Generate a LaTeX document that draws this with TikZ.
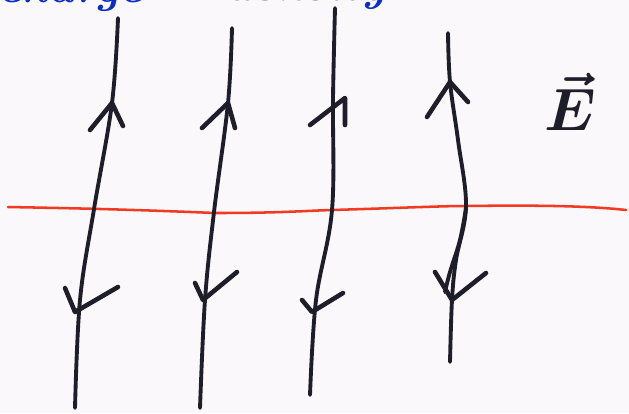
\documentclass[tikz,border=0pt]{standalone}
\usepackage{fontspec}
\begin{document}
\begin{tikzpicture}[x=0.05cm,y=-0.05cm,
  fieldline/.style={line width=5.5pt,color=ink,line cap=round,line join=round},
  arrowhead/.style={line width=6.5pt,color=ink,line cap=round,line join=round},
  boundary/.style={line width=3.6pt,color=redline,line cap=round},
  handtext/.style={color=bluepen,font=\fontsize{64}{70}\selectfont\itshape\bfseries,inner sep=0pt,anchor=base west}]
\definecolor{ink}{HTML}{1E1D2A}
\definecolor{redline}{HTML}{F23A22}
\definecolor{bluepen}{HTML}{0A2FC8}
\definecolor{paper}{HTML}{FBF8FB}
\useasboundingbox (0,0) rectangle (629,413);
\fill[paper] (0,0) rectangle (629,413);
% cut-off blue text at the top
\node[handtext] (t1) at (-2,2) {charge};
\node[handtext] (t2) at (225,0) {density};
% red boundary
\coordinate (r0) at (8,207);
\coordinate (r5) at (626,210);
\draw[boundary] (r0) .. controls (60,208) and (120,209) .. (215,213)
  .. controls (280,213) and (300,211) .. (332,210)
  .. controls (400,208) and (440,206) .. (466,206)
  .. controls (540,205) and (590,206) .. (r5);
% field lines
\draw[fieldline] plot[smooth,tension=0.6] coordinates {(118,18) (112,103) (94,209) (80,300) (75,408)};
\draw[fieldline] plot[smooth,tension=0.6] coordinates {(232,28) (228,103) (214,212) (205,300) (200,408)};
\draw[fieldline] plot[smooth,tension=0.6] coordinates {(335,8) (333,98) (332,210) (316,300) (310,395)};
\draw[fieldline] plot[smooth,tension=0.6] coordinates {(448,33) (450,82) (458,140) (466,206) (456,260) (452,300) (450,362)};
\draw[fieldline] plot[smooth,tension=0.6] coordinates {(466,208) (460,240) (450,272) (445,292)};
% upward arrowheads (above boundary)
\draw[arrowhead] (90,130) -- (112,103) -- (123,126);
\draw[arrowhead] (202,128) -- (228,103) -- (235,128);
\draw[arrowhead] (310,125) -- (345,98) -- (345,125);
\draw[arrowhead] (427,117) -- (450,82) -- (468,102);
% downward arrowheads (below boundary)
\draw[arrowhead] (65,288) -- (75,312) -- (118,287);
\draw[arrowhead] (195,283) -- (203,300) -- (237,272);
\draw[arrowhead] (302,300) -- (312,312) -- (343,293);
\draw[arrowhead] (435,272) -- (452,300) -- (486,273);
% E vector label
\node[color=ink,inner sep=0pt] (E) at (570,102) {\scalebox{8.5}{\boldmath$\vec{E}$}};
\end{tikzpicture}
\end{document}
